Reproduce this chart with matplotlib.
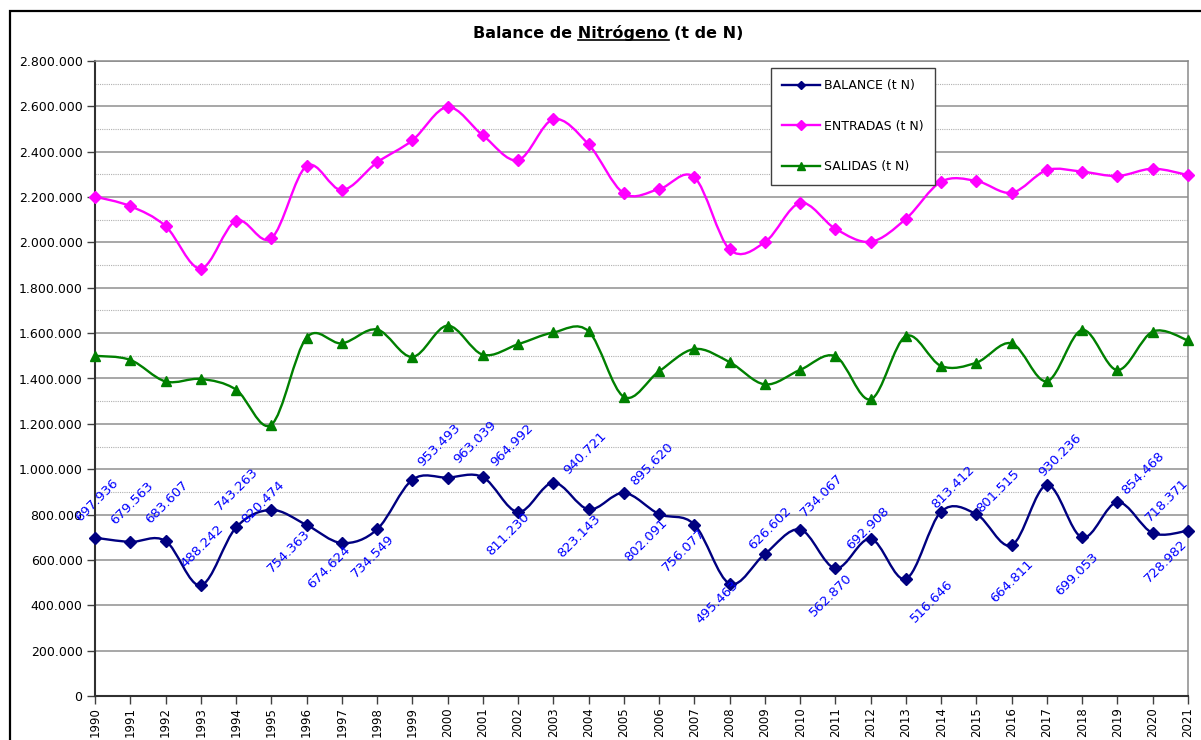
import matplotlib
matplotlib.use("Agg")
import matplotlib.pyplot as plt
from matplotlib.path import Path
from matplotlib.patches import PathPatch, Rectangle
from matplotlib.lines import Line2D

# ---------------- data ----------------
years = [1990, 1991, 1992, 1993, 1994, 1995, 1996, 1997, 1998, 1999, 2000,
         2001, 2002, 2003, 2004, 2005, 2006, 2007, 2008, 2009, 2010, 2011,
         2012, 2013, 2014, 2015, 2016, 2017, 2018, 2019, 2020, 2021]

balance = [697936, 679563, 683607, 488242, 743263, 820474, 754363, 674624,
           734549, 953493, 963039, 964992, 811230, 940721, 823143, 895620,
           802091, 756077, 495463, 626602, 734067, 562870, 692908, 516646,
           813412, 801515, 664811, 930236, 699053, 854468, 718371, 728982]

entradas = [2202000, 2160000, 2072000, 1885000, 2096000, 2018000, 2337000,
            2231000, 2353000, 2450000, 2597000, 2472000, 2363000, 2543000,
            2432000, 2216000, 2235000, 2287000, 1969000, 2001000, 2174000,
            2060000, 2003000, 2104000, 2268000, 2271000, 2219000, 2319000,
            2312000, 2293000, 2325000, 2297000]

salidas = [1500000, 1482000, 1387000, 1398000, 1351000, 1196000, 1580000,
           1555000, 1616000, 1495000, 1633000, 1505000, 1551000, 1603000,
           1608000, 1319000, 1432000, 1530000, 1472000, 1374000, 1438000,
           1498000, 1308000, 1587000, 1455000, 1470000, 1555000, 1388000,
           1614000, 1437000, 1607000, 1568000]

series_labels = ["BALANCE (t N)", "ENTRADAS (t N)", "SALIDAS (t N)"]
title_text = "Balance de Nitrógeno (t de N)"
y_ticks = [0, 200000, 400000, 600000, 800000, 1000000, 1200000, 1400000,
           1600000, 1800000, 2000000, 2200000, 2400000, 2600000, 2800000]

# ---------------- layout / style ----------------
W, H = 1201, 740
NAVY, MAGENTA, GREEN, LBLUE = "#000080", "#FF00FF", "#008000", "#0000FF"

# pixel offsets (dx, dy) of each balance data label from its point
label_offsets = [(2, 38), (2, 39), (1, 39), (1, 39), (1, 38), (-8, 8),
                 (-18, -26), (-13, -24), (-4, -27), (27, 35), (27, 35),
                 (29, 32), (-10, -22), (32, 29), (-10, -27), (28, 29),
                 (-13, -26), (-11, -26), (-12, -19), (5, 26), (22, 34),
                 (-5, -27), (-3, 11), (26, -22), (12, 24), (22, 23),
                 (0, -36), (13, 30), (-5, -37), (25, 29), (14, 33),
                 (-22, -30)]

plt.rcParams['font.family'] = ['DejaVu Sans']


def fmt(v):
    return f"{v:,.0f}".replace(",", ".")


def smooth_path(x, y):
    n = len(x)
    verts = [(x[0], y[0])]
    codes = [Path.MOVETO]
    for i in range(n - 1):
        p0 = (x[i - 1], y[i - 1]) if i > 0 else (x[i], y[i])
        p1 = (x[i], y[i])
        p2 = (x[i + 1], y[i + 1])
        p3 = (x[i + 2], y[i + 2]) if i + 2 < n else p2
        c1 = (p1[0] + (p2[0] - p0[0]) / 6.0, p1[1] + (p2[1] - p0[1]) / 6.0)
        c2 = (p2[0] - (p3[0] - p1[0]) / 6.0, p2[1] - (p3[1] - p1[1]) / 6.0)
        verts += [c1, c2, p2]
        codes += [Path.CURVE4] * 3
    return Path(verts, codes)


fig = plt.figure(figsize=(W / 100, H / 100), dpi=100)
fig.patch.set_facecolor("white")

# outer chart border (left & top visible)
fig.add_artist(Rectangle((10 / W, -0.2), 1.3, (1 - 11 / H) + 0.2,
                         transform=fig.transFigure, fill=False,
                         edgecolor="black", linewidth=1.6))

ax = fig.add_axes([95 / W, 1 - 696 / H, (1188 - 95) / W, (696 - 61) / H])
ax.set_xlim(years[0], years[-1])
ax.set_ylim(0, 2800000)

ax.set_yticks(y_ticks)
ax.set_yticklabels([fmt(v) for v in y_ticks])
ax.set_yticks(list(range(900000, 2800000, 200000)), minor=True)
ax.set_xticks(years)
ax.set_xticklabels([str(y) for y in years], rotation=90)

ax.set_axisbelow(True)
ax.yaxis.grid(True, which="major", color="#8f8f8f", linewidth=1.1)
ax.yaxis.grid(True, which="minor", color="#b0b0b0", linewidth=0.8,
              linestyle=(0, (1, 1)))
ax.xaxis.grid(False)

ax.tick_params(axis="y", which="major", length=6, width=1, pad=3,
               labelsize=9, color="#404040", labelcolor="black")
ax.tick_params(axis="y", which="minor", length=0)
ax.tick_params(axis="x", which="major", length=6, width=1, pad=2,
               labelsize=8.5, color="#404040", labelcolor="black")

for side in ("left", "bottom"):
    ax.spines[side].set_color("#303030")
    ax.spines[side].set_linewidth(1.5)
for side in ("top", "right"):
    ax.spines[side].set_color("#8a8a8a")
    ax.spines[side].set_linewidth(1.1)

# series
for vals, color, marker, ms in ((entradas, MAGENTA, "D", 6.3),
                                (salidas, GREEN, "^", 7.3),
                                (balance, NAVY, "D", 6)):
    ax.add_patch(PathPatch(smooth_path(years, vals), fill=False,
                           edgecolor=color, linewidth=1.7, zorder=3,
                           clip_on=False))
    ax.plot(years, vals, linestyle="none", marker=marker, markersize=ms,
            color=color, markeredgecolor=color, zorder=4, clip_on=False)

# data labels of BALANCE
for yr, v, (dx, dy) in zip(years, balance, label_offsets):
    ax.annotate(fmt(v), (yr, v), xytext=(dx, dy), textcoords="offset pixels",
                ha="center", va="center", rotation=45, color=LBLUE,
                fontsize=9.5, annotation_clip=False, zorder=5)

# legend
handles = [Line2D([], [], color=NAVY, marker="D", markersize=4.5, linewidth=1.7),
           Line2D([], [], color=MAGENTA, marker="D", markersize=5, linewidth=1.7),
           Line2D([], [], color=GREEN, marker="^", markersize=6, linewidth=1.7)]
leg = fig.legend(handles, series_labels, loc="upper left",
                 bbox_to_anchor=(771 / W, 1 - 68 / H), frameon=True,
                 fancybox=False, framealpha=1, edgecolor="#404040",
                 fontsize=9, handlelength=3.0, handletextpad=0.35,
                 labelspacing=2.2, borderpad=0.9, borderaxespad=0)
leg.get_frame().set_linewidth(1.0)

# title with underlined word
title_kw = dict(fontsize=11.5, fontweight="bold")
t = fig.text(608.5 / W, 1 - 33 / H, title_text, ha="center", va="center",
             **title_kw)
renderer = fig.canvas.get_renderer()
bb = t.get_window_extent(renderer)


def text_width(s):
    tmp = fig.text(0, 0, s, **title_kw)
    wdt = tmp.get_window_extent(renderer).width
    tmp.remove()
    return wdt


x_start = bb.x0 + text_width("Balance de x") - text_width("x")
x_end = bb.x0 + text_width("Balance de Nitrógeno")
y_ul = bb.y0 + 1.5
fig.add_artist(Line2D([x_start / W, x_end / W], [y_ul / H, y_ul / H],
                      transform=fig.transFigure, color="black",
                      linewidth=1.2))

fig.savefig("out.png", dpi=100)
